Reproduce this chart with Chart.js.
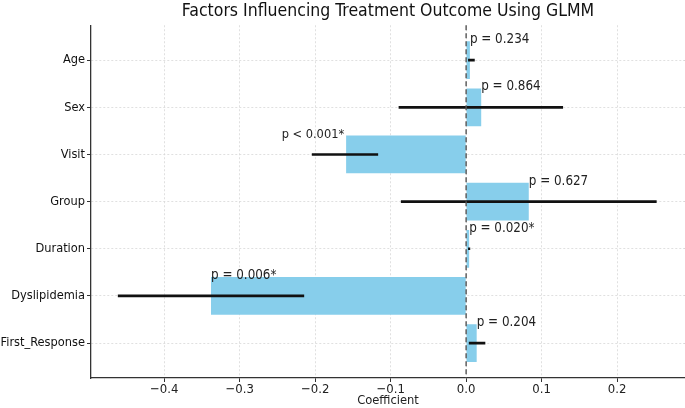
<!DOCTYPE html>
<html>
<head>
<meta charset="utf-8">
<script src="https://cdn.jsdelivr.net/npm/chart.js@4.4.1/dist/chart.umd.min.js"></script>
<style>
  html, body { margin: 0; padding: 0; background: #fff; }
  #wrap { width: 685px; height: 408px; }
</style>
</head>
<body>
<div id="wrap"><canvas id="chart"></canvas></div>
<script>
const factors = ["Age", "Sex", "Visit", "Group", "Duration", "Dyslipidemia", "First_Response"];
const coefficients = [0.005, 0.020, -0.159, 0.083, 0.004, -0.338, 0.014];
const ciLower = [0.003, -0.089, -0.204, -0.086, 0.003, -0.461, 0.004];
const ciUpper = [0.011, 0.128, -0.117, 0.252, 0.005, -0.215, 0.025];
const pLabels = ["p = 0.234", "p = 0.864", "p < 0.001*", "p = 0.627", "p = 0.020*", "p = 0.006*", "p = 0.204"];
const xTicks = [-0.4, -0.3, -0.2, -0.1, 0.0, 0.1, 0.2];

const FONT = '"DejaVu Sans Condensed", "DejaVu Sans", sans-serif';
Chart.defaults.font.family = FONT;
Chart.defaults.color = "#222";

const rows = factors.map((_, i) => i);

// dashed reference line at zero
const zeroLine = {
  id: "zeroLine",
  afterDatasetsDraw(chart) {
    const { ctx, chartArea, scales } = chart;
    const px = scales.x.getPixelForValue(0);
    ctx.save();
    ctx.strokeStyle = "#555";
    ctx.lineWidth = 1.4;
    ctx.setLineDash([5, 3]);
    ctx.beginPath();
    ctx.moveTo(px, chartArea.top);
    ctx.lineTo(px, chartArea.bottom);
    ctx.stroke();
    ctx.restore();
  }
};

// p-value text sitting on top of each bar end
// (the Visit label is tucked in to the left of its bar, a bit smaller)
const rightAligned = ["Visit"];
const pValueLabels = {
  id: "pValueLabels",
  afterDatasetsDraw(chart) {
    const { ctx } = chart;
    const meta = chart.getDatasetMeta(1);
    ctx.save();
    ctx.fillStyle = "#222";
    ctx.textBaseline = "alphabetic";
    meta.data.forEach((bar, i) => {
      const top = bar.y - bar.height / 2;
      if (rightAligned.includes(factors[i])) {
        ctx.font = "12.7px " + FONT;
        ctx.textAlign = "right";
        ctx.fillText(pLabels[i], bar.x - 2, top + 2);
      } else {
        ctx.font = "13.3px " + FONT;
        ctx.textAlign = "left";
        ctx.fillText(pLabels[i], bar.x, top + 2);
      }
    });
    ctx.restore();
  }
};

const gridStyle = { offset: false, color: "#d8d8d8", lineWidth: 0.8, tickLength: 4, tickColor: "#333", tickWidth: 1, tickBorderDash: [] };

new Chart(document.getElementById("chart"), {
  type: "bar",
  data: {
    datasets: [
      {
        label: "95% CI",
        data: rows.map((i) => ({ x: [ciLower[i], ciUpper[i]], y: i })),
        backgroundColor: "#111",
        barThickness: 2,
        grouped: false,
        order: 0
      },
      {
        label: "Coefficient",
        data: rows.map((i) => ({ x: coefficients[i], y: i })),
        backgroundColor: "#87ceeb",
        categoryPercentage: 1,
        barPercentage: 0.8,
        grouped: false,
        order: 1
      }
    ]
  },
  options: {
    indexAxis: "y",
    responsive: true,
    maintainAspectRatio: false,
    animation: false,
    layout: { padding: 0 },
    plugins: {
      legend: { display: false },
      tooltip: { enabled: false },
      title: {
        display: true,
        text: "Factors Influencing Treatment Outcome Using GLMM",
        fullSize: false,
        color: "#111",
        font: { size: 17.5, weight: "normal", lineHeight: 1.1 },
        padding: { top: 2, bottom: 4 }
      }
    },
    scales: {
      x: {
        type: "linear",
        min: -0.497,
        max: 0.29,
        afterBuildTicks: (s) => { s.ticks = xTicks.map((v) => ({ value: v })); },
        afterFit: (s) => { s.height = 30; },
        ticks: {
          padding: 0,
          font: { size: 13 },
          callback: (v) => v.toFixed(1).replace("-", "\u2212")
        },
        grid: gridStyle,
        border: { color: "#333", width: 1.3, dash: [2, 2] },
        title: { display: true, text: "Coefficient", font: { size: 12.8 }, padding: 0, color: "#222" }
      },
      y: {
        type: "linear",
        reverse: true,
        offset: false,
        min: -0.74,
        max: 6.74,
        afterBuildTicks: (s) => { s.ticks = rows.map((v) => ({ value: v })); },
        afterFit: (s) => { s.width = 91; },
        ticks: {
          padding: 2,
          font: { size: 12.7 },
          color: "#111",
          callback: (v) => factors[v]
        },
        grid: gridStyle,
        border: { color: "#333", width: 1.3, dash: [2, 2] }
      }
    }
  },
  plugins: [zeroLine, pValueLabels]
});
</script>
</body>
</html>
